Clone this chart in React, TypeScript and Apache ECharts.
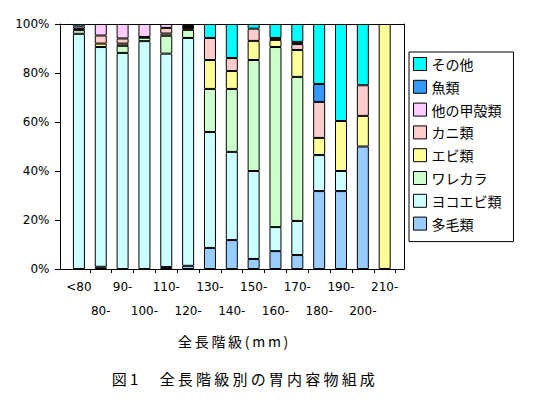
import React, { useEffect, useRef } from 'react';
import * as echarts from 'echarts';

// 全長階級 (mm)
const categories = ['<80', '80-', '90-', '100-', '110-', '120-', '130-', '140-', '150-', '160-', '170-', '180-', '190-', '200-', '210-'];

// 胃内容物組成 (%) — stacked from the bottom
const polychaeta = [0, 0.9, 0, 0, 0.8, 1.3, 8.6, 11.8, 4.1, 7.3, 5.7, 31.8, 31.8, 50, 0];
const gammarid = [96.0, 89.7, 88.2, 93.0, 87.1, 93.0, 47.3, 36.0, 35.9, 9.8, 13.9, 14.7, 8.2, 0, 0];
const caprellid = [1.5, 0, 2.9, 1.4, 7.3, 3.3, 17.6, 25.7, 45.3, 73.5, 58.8, 0, 0, 0, 0];
const shrimp = [0.5, 1.4, 0.9, 0.3, 0.9, 0.8, 11.8, 7.3, 7.8, 2.9, 11.0, 7.0, 20.4, 12.5, 100];
const crab = [0, 3.3, 2.1, 0, 2.3, 0.4, 9.0, 5.3, 5.0, 0.8, 2.4, 14.7, 0, 12.5, 0];
const otherCrustacea = [1.0, 4.7, 5.9, 5.3, 1.6, 0.3, 0, 0, 0, 0, 0, 0, 0, 0, 0];
const fish = [0, 0, 0, 0, 0, 0.4, 0, 0, 0, 0, 0.9, 7.3, 0, 0, 0];
const others = [1.0, 0, 0, 0, 0, 0.5, 5.7, 13.9, 1.9, 5.7, 7.3, 24.5, 39.6, 25, 0];

const seriesNames = ['多毛類', 'ヨコエビ類', 'ワレカラ', 'エビ類', 'カニ類', '他の甲殻類', '魚類', 'その他'];
const seriesValues = [polychaeta, gammarid, caprellid, shrimp, crab, otherCrustacea, fish, others];
const seriesColors = ['#99CCFF', '#CCFFFF', '#CCFFCC', '#FFFF99', '#FFCCCC', '#FFCCFF', '#3399FF', '#00FFFF'];

const yTicks = [0, 20, 40, 60, 80, 100];
const axisTitle = '全長階級(mm)';
const caption = '図1　全長階級別の胃内容物組成';

const JP = '"Noto Sans CJK JP", sans-serif';
const NUM = '"DejaVu Sans", sans-serif';
const black = '#000';

const lineOnly = {
  axisLine: { show: true, onZero: false, lineStyle: { color: black, width: 1 } },
  axisTick: { show: false },
  axisLabel: { show: false },
  splitLine: { show: false },
};

export default function App() {
  const ref = useRef<HTMLDivElement>(null);

  useEffect(() => {
    if (!ref.current) return;
    const chart = echarts.init(ref.current, undefined, { renderer: 'svg' });

    const option: any = {
      animation: false,
      backgroundColor: '#fff',
      grid: [
        { left: 60, top: 24, width: 344, height: 245 },
        { left: 68, top: 24, width: 327.6, height: 245 },
      ],
      xAxis: [
        { gridIndex: 0, type: 'value', min: 0, max: 1, position: 'bottom', ...lineOnly },
        { gridIndex: 0, type: 'value', min: 0, max: 1, position: 'top', ...lineOnly },
        {
          gridIndex: 1,
          type: 'category',
          data: categories,
          axisLine: { show: false },
          axisTick: {
            show: true,
            length: 4,
            interval: (i: number) => i > 0,
            lineStyle: { color: black, width: 1 },
          },
          axisLabel: {
            interval: 0,
            margin: 6,
            color: black,
            fontFamily: NUM,
            fontSize: 12,
            lineHeight: 24,
            formatter: (v: string, i: number) => (i % 2 ? '\n' + v : v),
          },
          splitLine: { show: false },
        },
      ],
      yAxis: [
        {
          gridIndex: 0,
          type: 'value',
          position: 'left',
          min: yTicks[0],
          max: yTicks[yTicks.length - 1],
          interval: yTicks[1] - yTicks[0],
          axisLine: { show: true, lineStyle: { color: black, width: 1 } },
          axisTick: { show: true, length: 5, lineStyle: { color: black, width: 1 } },
          axisLabel: { formatter: '{value}%', margin: 10.5, color: black, fontFamily: NUM, fontSize: 12 },
          splitLine: { show: false },
        },
        { gridIndex: 0, type: 'value', position: 'right', min: 0, max: 100, ...lineOnly },
        { gridIndex: 1, type: 'value', min: 0, max: 100, show: false },
      ],
      legend: {
        orient: 'vertical',
        left: 409,
        top: 52,
        data: [...seriesNames].reverse(),
        icon: 'rect',
        itemWidth: 13,
        itemHeight: 13,
        itemGap: 8.8,
        padding: [5, 12, 11, 4],
        borderColor: black,
        borderWidth: 1,
        selectedMode: false,
        itemStyle: { borderColor: black, borderWidth: 1 },
        textStyle: { color: black, fontFamily: JP, fontSize: 14 },
      },
      series: seriesNames.map((name, k) => ({
        name,
        type: 'bar',
        stack: 'total',
        xAxisIndex: 2,
        yAxisIndex: 2,
        barWidth: 12,
        data: seriesValues[k].map((v) => (v === 0 ? null : v)),
        itemStyle: { color: seriesColors[k], borderColor: black, borderWidth: 1 },
        emphasis: { disabled: true },
      })),
      graphic: [
        {
          type: 'text',
          x: 178,
          y: 340.5,
          style: {
            text: axisTitle,
            font: '14px ' + JP,
            fill: black,
            textAlign: 'left',
            textVerticalAlign: 'middle',
            align: 'left',
            verticalAlign: 'middle',
          },
        },
        {
          type: 'text',
          x: 111.7,
          y: 378.3,
          style: {
            text: caption,
            font: '15px ' + JP,
            fill: black,
            textAlign: 'left',
            textVerticalAlign: 'middle',
            align: 'left',
            verticalAlign: 'middle',
          },
        },
      ],
    };

    chart.setOption(option);

    // widen the tracking of the two Japanese captions
    const spacing: Record<string, string> = { [axisTitle]: '2.7', [caption]: '3.2' };
    ref.current.querySelectorAll('text').forEach((t) => {
      const s = spacing[t.textContent || ''];
      if (s) t.setAttribute('letter-spacing', s);
    });

    return () => chart.dispose();
  }, []);

  return <div ref={ref} style={{ position: 'absolute', left: 0, top: 0, width: 534, height: 403 }} />;
}
